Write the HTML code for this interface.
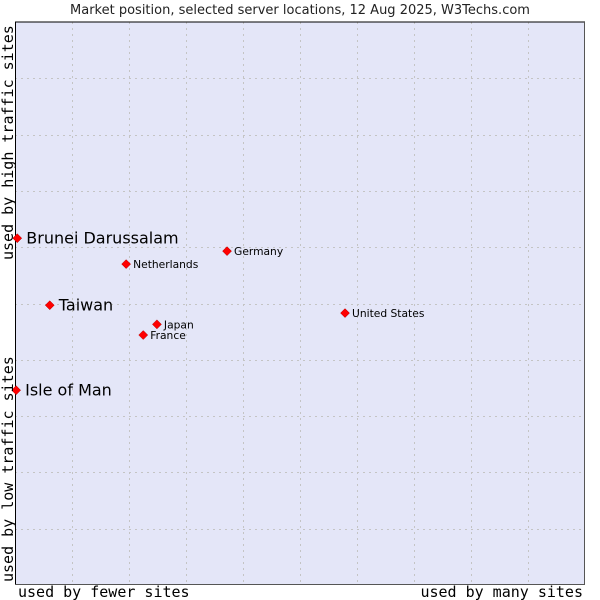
<!DOCTYPE html>
<html><head><meta charset="utf-8"><style>
body{margin:0;background:#fff;}
svg{display:block;}
text{font-family:"DejaVu Sans","Liberation Sans",sans-serif;}
.mono{font-family:"DejaVu Sans Mono","Liberation Mono",monospace;}
</style></head><body>
<svg id="chart" width="600" height="600">
<text x="300" y="14" text-anchor="middle" font-size="13" fill="#222">Market position, selected server locations, 12 Aug 2025, W3Techs.com</text>
<rect x="15" y="22" width="570" height="563" fill="#e4e6f8" stroke="none"/>
<g id="grid"></g>
<line x1="15" y1="22" x2="585" y2="22" stroke="#000"/>
<line x1="15.5" y1="22" x2="15.5" y2="585" stroke="#000"/>
<line x1="584.5" y1="22" x2="584.5" y2="585" stroke="#555"/>
<line x1="15" y1="584.5" x2="585" y2="584.5" stroke="#555"/>
<g id="points"></g>
<text class="mono" x="18" y="597" font-size="15" fill="#000">used by fewer sites</text>
<text class="mono" x="583" y="597" font-size="15" fill="#000" text-anchor="end">used by many sites</text>
<text class="mono" transform="translate(13,582) rotate(-90)" font-size="15" fill="#000">used by low traffic sites</text>
<text class="mono" transform="translate(13,260) rotate(-90)" font-size="15" fill="#000">used by high traffic sites</text>
</svg>
<script>
const names=["Brunei Darussalam","Taiwan","Isle of Man","Netherlands","Germany","United States","Japan","France"];
const xValues=[0.04,0.61,0.02,1.95,3.72,5.79,2.49,2.25];
const yValues=[6.16,4.97,3.46,5.70,5.93,4.83,4.63,4.44];
const bigLabel=[true,true,true,false,false,false,false,false];
const ns="http://www.w3.org/2000/svg";
const X=v=>15+v*57;
const Y=v=>585-v*56.3;
const grid=document.getElementById('grid');
for(let i=1;i<10;i++){
  const l=document.createElementNS(ns,'line');
  l.setAttribute('x1',X(i)+0.5);l.setAttribute('x2',X(i)+0.5);l.setAttribute('y1',22);l.setAttribute('y2',585);
  l.setAttribute('stroke','#c4c4c4');l.setAttribute('stroke-dasharray','2,4');
  
  
  grid.appendChild(l);
  const h=document.createElementNS(ns,'line');
  h.setAttribute('y1',Math.round(Y(i))+0.5);h.setAttribute('y2',Math.round(Y(i))+0.5);h.setAttribute('x1',15);h.setAttribute('x2',585);
  h.setAttribute('stroke','#c4c4c4');h.setAttribute('stroke-dasharray','2,4');
  
  
  grid.appendChild(h);
}
const pts=document.getElementById('points');
names.forEach((n,i)=>{
  const x=X(xValues[i]),y=Y(yValues[i]);
  const d=document.createElementNS(ns,'polygon');
  d.setAttribute('points',`${x},${y-4.5} ${x+4.5},${y} ${x},${y+4.5} ${x-4.5},${y}`);
  d.setAttribute('fill','#ff0000');d.setAttribute('stroke','#b00000');d.setAttribute('stroke-width','0.5');
  
  
  pts.appendChild(d);
  const t=document.createElementNS(ns,'text');
  const big=bigLabel[i];
  t.setAttribute('x',x+(big?9:7));t.setAttribute('y',y+(big?5.5:4));
  t.setAttribute('font-size',big?16:10.7);t.setAttribute('fill','#000');
  t.textContent=n;
  
  
  pts.appendChild(t);
});
</script>
</body></html>
